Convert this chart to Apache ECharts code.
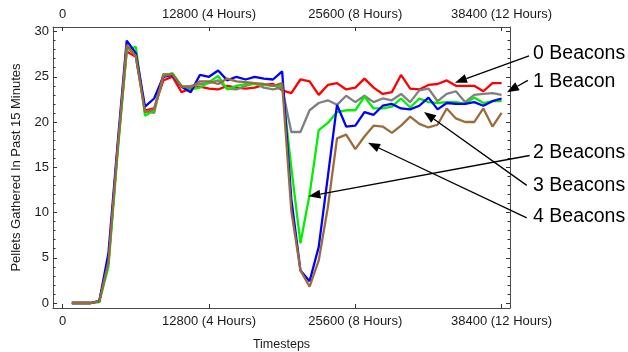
<!DOCTYPE html>
<html><head><meta charset="utf-8">
<script src="https://cdn.jsdelivr.net/npm/echarts@6/dist/echarts.min.js"></script>
<style>html,body{margin:0;padding:0;background:#fff}#c{width:628px;height:352px}</style>
</head><body><div id="c"></div>
<script>
const timesteps = [800,1600,2400,3200,4000,4800,5600,6400,7200,8000,8800,9600,10400,11200,12000,12800,13600,14400,15200,16000,16800,17600,18400,19200,20000,20800,21600,22400,23200,24000,24800,25600,26400,27200,28000,28800,29600,30400,31200,32000,32800,33600,34400,35200,36000,36800,37600,38400];
const beacons0 = [0,0,0,0.2,4.5,17,27.8,27.2,21.3,21.5, 24.6,25.0,23.3,23.7,23.9,23.7,23.6,24.0,23.8,23.7, 23.8,24.1,24.2,23.5,23.2,24.7,24.5,23.0,24.1,24.3, 23.6,23.8,24.8,23.8,23.1,23.3,25.2,23.7,23.6,24.1, 24.2,24.6,24.0,24.0,24.0,23.4,24.3,24.3];
const beacons1 = [0,0,0,0.2,4.5,17,28.3,27.3,21.2,21.0, 25.3,25.3,23.9,24.0,24.2,24.3,24.6,23.7,23.6,24.0, 24.3,23.8,23.6,23.8,18.9,18.9,21.3,22.1,22.4,21.9, 22.9,22.2,22.9,22.2,22.6,22.4,23.1,22.2,23.5,23.7, 22.3,23.1,23.4,22.2,23.0,23.1,23.2,23.0];
const beacons2 = [0,0,0,0.1,4.0,16.5,28.0,28.3,20.7,21.3, 25.1,25.4,24.0,23.6,23.8,24.4,25.1,23.6,24.0,24.2, 24.2,24.1,24.0,24.0,15.0,6.6,12.0,19.1,19.9,21.1, 21.3,21.3,22.8,21.5,21.5,21.7,22.6,21.6,22.6,22.2, 22.1,22.2,22.2,22.0,22.7,22.1,22.3,22.3];
const beacons3 = [0,0,0,0.2,5.5,17.5,29.0,27.6,21.7,22.6, 25.0,25.2,23.9,23.3,25.2,25.0,25.7,24.6,25.0,24.7, 25.0,24.8,24.7,25.6,11.5,3.6,2.4,6.2,14.0,21.9, 19.5,19.6,21.1,20.8,21.8,22.0,21.5,21.4,21.8,22.7, 21.4,22.1,22.0,22.0,22.2,21.8,22.3,22.6];
const beacons4 = [0,0,0,0.2,4.5,17,28.5,27.3,21.1,21.4, 25.1,25.3,23.9,23.8,24.5,24.5,24.2,24.8,24.5,24.4, 24.3,24.2,24.0,24.3,10.2,3.6,1.8,4.7,10.6,18.2, 18.6,17.0,18.4,19.6,19.5,18.8,19.6,20.6,19.8,19.4, 19.7,21.5,20.4,20.0,20.0,21.5,19.5,21.0];
const seriesNames = ['0 Beacons','1 Beacon','2 Beacons','3 Beacons','4 Beacons'];
const seriesColors = ['#ff0000','#808080','#00f000','#0000ff','#9c6b3c'];
const xTickValues = [0,12800,25600,38400];
const xTickLabels = ['0','12800 (4 Hours)','25600 (8 Hours)','38400 (12 Hours)'];
const yMajorTicks = [0,5,10,15,20,25,30];
const yMinorTicks = [0,1,2,3,4,5,6,7,8,9,10,11,12,13,14,15,16,17,18,19,20,21,22,23,24,25,26,27,28,29,30];
// annotation labels / arrows in data units
const annoTextAt = [[41150,27.6],[41150,24.5],[41150,16.6],[41150,13.0],[41150,9.5]];
const annoArrowFrom = [[40800,27.3],[40700,24.6],[40850,16.3],[40600,13.0],[40600,9.4]];
const annoArrowTo = [[34320,24.35],[38870,23.3],[21500,11.8],[31610,21.1],[26710,17.7]];

const seriesData = [beacons0,beacons1,beacons2,beacons3,beacons4];
const chart = echarts.init(document.getElementById('c'), null, {renderer:'canvas'});
const font = '"Liberation Sans", Arial, Helvetica, sans-serif';
const axisColor = '#4a4a4a';
const xMin = -849, xMax = 39134, yMin = -0.55, yMax = 30.5;
function xAxisDef(pos, withName){
  return {type:'value', position:pos, min:xMin, max:xMax, gridIndex:0,
    axisLine:{show:true, onZero:false, lineStyle:{color:axisColor, width:1}},
    axisTick:{show:true, inside:true, length:4, customValues:xTickValues, lineStyle:{color:'#333'}},
    axisLabel:{show:true, customValues:xTickValues, margin: pos==='top'?6:7, color:'#1a1a1a', fontSize:13, fontFamily:font,
      formatter:v=>{const i=xTickValues.indexOf(v); return i>=0?xTickLabels[i]:'';}},
    splitLine:{show:false},
    name: withName?'Timesteps':'', nameLocation:'middle', nameGap:30,
    nameTextStyle:{color:'#1a1a1a', fontSize:12.5, fontFamily:font}};
}
function yAxisDef(pos, major, withName){
  return {type:'value', position:pos, min:yMin, max:yMax, gridIndex:0,
    axisLine:{show:major, onZero:false, lineStyle:{color:axisColor, width:1}},
    axisTick:{show:true, inside:true, length: major?4:2.5, customValues: major?yMajorTicks:yMinorTicks, lineStyle:{color:'#333'}},
    axisLabel:{show: major && pos==='left', customValues:yMajorTicks, margin:4, color:'#1a1a1a', fontSize:13, fontFamily:font},
    splitLine:{show:false},
    name: withName?'Pellets Gathered In Past 15 Minutes':'', nameLocation:'middle', nameGap:30,
    nameTextStyle:{color:'#1a1a1a', fontSize:13, fontFamily:font}};
}
chart.setOption({
  animation:false,
  backgroundColor:'#fff',
  grid:{left:53, top:27, width:457, height:281, containLabel:false, outerBoundsMode:'none'},
  xAxis:[xAxisDef('bottom',true), xAxisDef('top',false)],
  yAxis:[yAxisDef('left',true,true), yAxisDef('left',false,false), yAxisDef('right',true,false), yAxisDef('right',false,false)],
  series: seriesData.map((arr,i)=>({
    type:'line', name:seriesNames[i], xAxisIndex:0, yAxisIndex:0,
    data: timesteps.map((t,j)=>[t, arr[j]]),
    showSymbol:false, symbol:'none', smooth:false,
    lineStyle:{color:seriesColors[i], width:2.3},
    itemStyle:{color:seriesColors[i]}, z:2+i
  }))
});
const graphics = [];
for (let i=0;i<seriesNames.length;i++){
  const tp = chart.convertToPixel({gridIndex:0}, annoTextAt[i]);
  graphics.push({type:'text', x:tp[0], y:tp[1], z:100,
    style:{text:seriesNames[i], fill:'#000', fontSize:19.5, fontFamily:font, align:'left', verticalAlign:'middle'}});
  const p0 = chart.convertToPixel({gridIndex:0}, annoArrowFrom[i]);
  const p1 = chart.convertToPixel({gridIndex:0}, annoArrowTo[i]);
  const dx=p1[0]-p0[0], dy=p1[1]-p0[1], L=Math.hypot(dx,dy), ux=dx/L, uy=dy/L;
  const hl=12, hw=4.5;
  const bx=p1[0]-ux*hl, by=p1[1]-uy*hl;
  graphics.push({type:'line', z:100, shape:{x1:p0[0],y1:p0[1],x2:bx,y2:by}, style:{stroke:'#000', lineWidth:1.3}});
  graphics.push({type:'polygon', z:100, shape:{points:[[p1[0],p1[1]],[bx-uy*hw,by+ux*hw],[bx+uy*hw,by-ux*hw]]}, style:{fill:'#000'}});
}
chart.setOption({graphic:graphics});
</script></body></html>
